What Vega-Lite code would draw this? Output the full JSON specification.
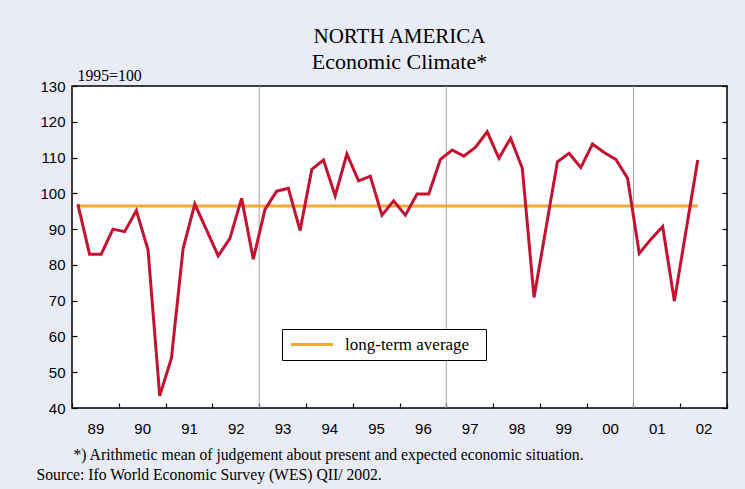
{
  "$schema": "https://vega.github.io/schema/vega-lite/v6.json",
  "width": 655,
  "height": 322,
  "autosize": "none",
  "padding": {"left": 72, "top": 86, "right": 18, "bottom": 81},
  "background": "#e9ecf6",
  "config": {
    "view": {"fill": "white", "stroke": "black", "strokeWidth": 1.5},
    "font": "Liberation Serif"
  },
  "title": {
    "text": "NORTH AMERICA",
    "subtitle": "Economic Climate*",
    "anchor": "middle",
    "frame": "group",
    "font": "Liberation Serif",
    "fontSize": 21,
    "fontWeight": "normal",
    "color": "black",
    "subtitleFont": "Liberation Serif",
    "subtitleFontSize": 22,
    "subtitleColor": "black",
    "subtitlePadding": 5,
    "offset": -6
  },
  "datasets": {
    "climate": [
      {"t": 1989.125, "v": 97.0}, {"t": 1989.375, "v": 83.0}, {"t": 1989.625, "v": 83.0}, {"t": 1989.875, "v": 90.0},
      {"t": 1990.125, "v": 89.3}, {"t": 1990.375, "v": 95.2}, {"t": 1990.625, "v": 84.2}, {"t": 1990.875, "v": 43.4},
      {"t": 1991.125, "v": 53.9}, {"t": 1991.375, "v": 84.6}, {"t": 1991.625, "v": 97.0}, {"t": 1991.875, "v": 89.8},
      {"t": 1992.125, "v": 82.5}, {"t": 1992.375, "v": 87.4}, {"t": 1992.625, "v": 98.6}, {"t": 1992.875, "v": 81.6},
      {"t": 1993.125, "v": 95.5}, {"t": 1993.375, "v": 100.6}, {"t": 1993.625, "v": 101.4}, {"t": 1993.875, "v": 89.6},
      {"t": 1994.125, "v": 106.7}, {"t": 1994.375, "v": 109.3}, {"t": 1994.625, "v": 99.3}, {"t": 1994.875, "v": 111.0},
      {"t": 1995.125, "v": 103.5}, {"t": 1995.375, "v": 104.8}, {"t": 1995.625, "v": 93.9}, {"t": 1995.875, "v": 97.9},
      {"t": 1996.125, "v": 93.9}, {"t": 1996.375, "v": 99.8}, {"t": 1996.625, "v": 99.8}, {"t": 1996.875, "v": 109.5},
      {"t": 1997.125, "v": 112.1}, {"t": 1997.375, "v": 110.4}, {"t": 1997.625, "v": 112.9}, {"t": 1997.875, "v": 117.2},
      {"t": 1998.125, "v": 109.8}, {"t": 1998.375, "v": 115.4}, {"t": 1998.625, "v": 107.0}, {"t": 1998.875, "v": 70.9},
      {"t": 1999.125, "v": 89.8}, {"t": 1999.375, "v": 108.8}, {"t": 1999.625, "v": 111.2}, {"t": 1999.875, "v": 107.2},
      {"t": 2000.125, "v": 113.8}, {"t": 2000.375, "v": 111.4}, {"t": 2000.625, "v": 109.5}, {"t": 2000.875, "v": 104.2},
      {"t": 2001.125, "v": 83.2}, {"t": 2001.375, "v": 87.2}, {"t": 2001.625, "v": 90.7}, {"t": 2001.875, "v": 69.9},
      {"t": 2002.125, "v": 89.6}, {"t": 2002.375, "v": 109.3}
    ],
    "avg": [{"start": 1989.125, "end": 2002.375, "value": 96.45, "label": "long-term average"}],
    "dividers": [{"year": 1993}, {"year": 1997}, {"year": 2001}]
  },
  "layer": [
    {
      "data": {"name": "dividers"},
      "mark": {"type": "rule", "color": "#a3a3a3", "strokeWidth": 1},
      "encoding": {
        "x": {"field": "year", "type": "quantitative", "axis": null,
              "scale": {"domain": [1989, 2003], "nice": false, "zero": false}}
      }
    },
    {
      "data": {"name": "avg"},
      "mark": {"type": "rule", "strokeWidth": 3},
      "encoding": {
        "x": {"field": "start", "type": "quantitative",
              "axis": {"orient": "bottom", "title": "Source: Ifo World Economic Survey (WES) QII/ 2002.",
                       "labels": false, "ticks": false, "domain": false, "grid": false,
                       "titleX": -36, "titleY": 71, "titleAlign": "left", "titleAnchor": "start",
                       "titleBaseline": "alphabetic", "titleFont": "Liberation Serif", "titleFontSize": 15.7,
                       "titleFontWeight": "normal", "titleColor": "black"}},
        "x2": {"field": "end"},
        "y": {"field": "value", "type": "quantitative",
              "scale": {"domain": [40, 130], "nice": false, "zero": false},
              "axis": {"orient": "right", "labels": false, "title": null, "tickSize": -5, "tickColor": "black",
                       "tickWidth": 1.2, "values": [40, 50, 60, 70, 80, 90, 100, 110, 120, 130],
                       "domain": false, "grid": false}},
        "color": {"field": "label", "type": "nominal",
                  "scale": {"range": ["#f4a934"]},
                  "legend": {"orient": "none", "legendX": 210, "legendY": 243, "title": null,
                             "strokeColor": "black", "fillColor": "white", "padding": 7,
                             "symbolType": "M-3,0H3M23,0", "symbolSize": 196, "symbolStrokeWidth": 3,
                             "symbolStrokeColor": "#f4a934", "symbolOffset": 14.5,
                             "labelFont": "Liberation Serif", "labelFontSize": 17, "labelColor": "black",
                             "labelOffset": 24.5}}
      }
    },
    {
      "data": {"name": "climate"},
      "mark": {"type": "line", "color": "#c41230", "strokeWidth": 3},
      "encoding": {
        "x": {"field": "t", "type": "quantitative",
              "axis": {"orient": "bottom", "values": [1989, 1990, 1991, 1992, 1993, 1994, 1995, 1996, 1997, 1998, 1999, 2000, 2001, 2002, 2003],
                       "format": "d", "labelExpr": "datum.value >= 2003 ? '' : substring(datum.label, 2, 4)",
                       "labelOffset": 23.4, "labelFont": "Liberation Sans", "labelFontSize": 15, "labelColor": "black",
                       "labelPadding": 18, "labelFlush": false, "labelOverlap": false,
                       "tickSize": -5, "tickColor": "black", "tickWidth": 1.2, "domain": false, "grid": false,
                       "title": "*) Arithmetic mean of judgement about present and expected economic situation.",
                       "titleX": 1, "titleY": 51, "titleAlign": "left", "titleAnchor": "start",
                       "titleBaseline": "alphabetic", "titleFont": "Liberation Serif", "titleFontSize": 15.7,
                       "titleFontWeight": "normal", "titleColor": "black"}},
        "y": {"field": "v", "type": "quantitative",
              "axis": {"orient": "left", "values": [40, 50, 60, 70, 80, 90, 100, 110, 120, 130],
                       "labelFont": "Liberation Sans", "labelFontSize": 15, "labelColor": "black",
                       "labelPadding": 12, "tickSize": -5, "tickColor": "black", "tickWidth": 1.2,
                       "domain": false, "grid": false,
                       "title": "1995=100", "titleAngle": 0, "titleX": 5, "titleY": -6,
                       "titleAlign": "left", "titleBaseline": "alphabetic", "titleFont": "Liberation Serif",
                       "titleFontSize": 15.8, "titleFontWeight": "normal", "titleColor": "black"}}
      }
    }
  ],
  "resolve": {"axis": {"x": "independent", "y": "independent"}}
}
